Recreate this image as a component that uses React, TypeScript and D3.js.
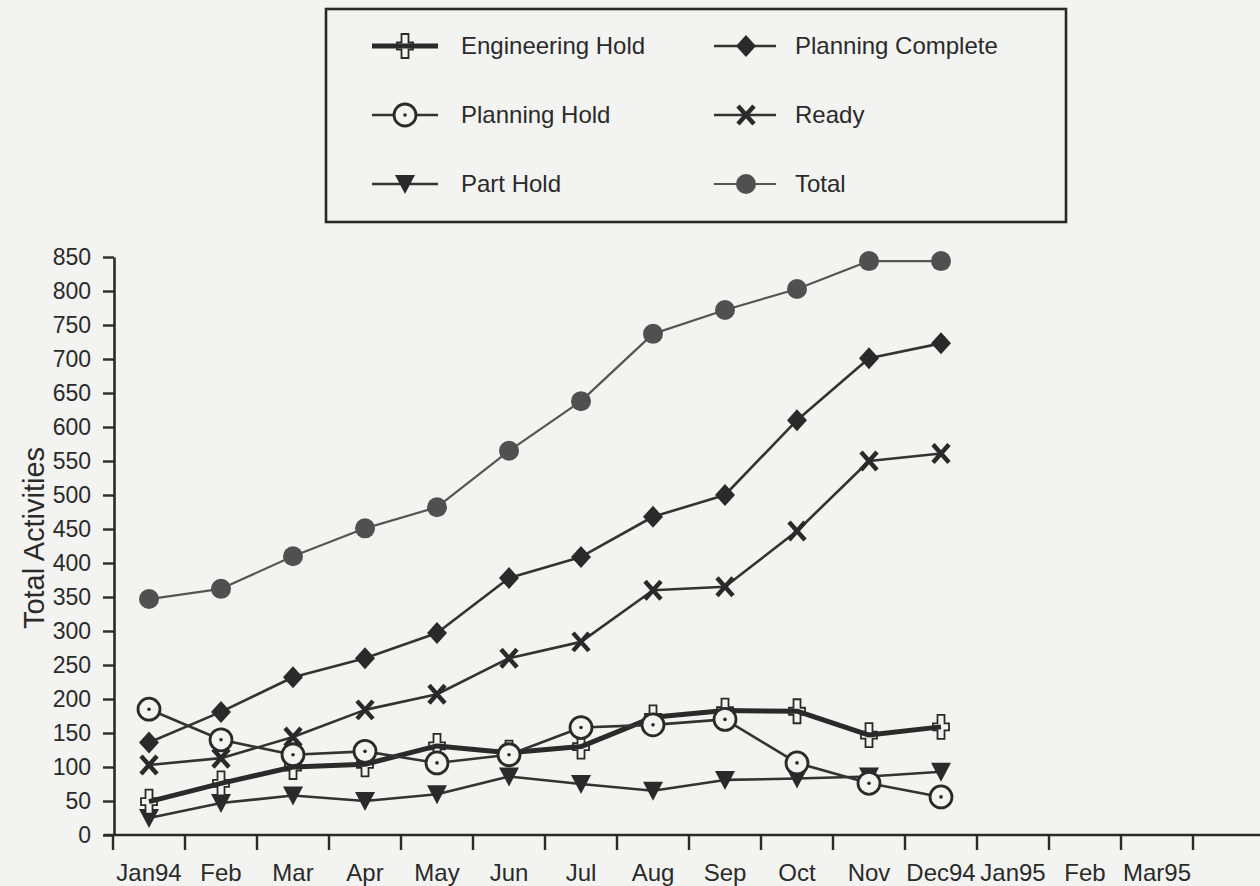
import React, { useEffect, useRef } from "react";
import * as d3 from "d3";

const categories = ["Jan94", "Feb", "Mar", "Apr", "May", "Jun", "Jul", "Aug", "Sep", "Oct", "Nov", "Dec94", "Jan95", "Feb", "Mar95"];
const months = ["Jan94", "Feb", "Mar", "Apr", "May", "Jun", "Jul", "Aug", "Sep", "Oct", "Nov", "Dec94"];
const yTicks = [0, 50, 100, 150, 200, 250, 300, 350, 400, 450, 500, 550, 600, 650, 700, 750, 800, 850];

const total = [347, 362, 410, 451, 482, 565, 638, 737, 772, 803, 844, 844];
const planningComplete = [136, 181, 232, 260, 297, 378, 409, 468, 500, 610, 701, 723];
const ready = [103, 113, 144, 184, 207, 260, 284, 360, 365, 447, 550, 561];
const planningHold = [185, 140, 118, 123, 106, 118, 158, 162, 170, 106, 76, 56];
const partHold = [25, 47, 58, 50, 60, 86, 75, 65, 81, 83, 86, 93];
const engineeringHold = [49, 76, 100, 104, 131, 121, 130, 173, 183, 182, 147, 159];

const seriesNames = ["Engineering Hold", "Planning Complete", "Planning Hold", "Ready", "Part Hold", "Total"];

const BG = "#f3f3f1";
const INK = "#2a2a2a";
const FONT = "'Liberation Sans', Arial, Helvetica, sans-serif";

export default function App() {
  const ref = useRef<SVGSVGElement | null>(null);

  useEffect(() => {
    const svg = d3.select(ref.current);
    svg.selectAll("*").remove();

    const W = 1260, H = 886;
    svg.append("rect").attr("width", W).attr("height", H).attr("fill", BG);

    const x = d3.scaleBand<number>().domain(d3.range(categories.length)).range([113, 1193]).padding(0);
    const y = d3.scaleLinear().domain([0, 850]).range([835, 257]);
    const cx = (i: number) => (x(i) as number) + x.bandwidth() / 2;

    // Y axis
    const yAxis = d3.axisLeft(y).tickValues(yTicks).tickSize(11).tickPadding(12).tickSizeOuter(0);
    const gy = svg.append("g").attr("transform", "translate(114,0)").call(yAxis);
    gy.select(".domain").attr("stroke", INK).attr("stroke-width", 2.6);
    gy.selectAll(".tick line").attr("stroke", INK).attr("stroke-width", 2.4);
    gy.selectAll(".tick text").attr("fill", INK).attr("font-size", 23).attr("font-family", FONT);

    // X axis
    const gx = svg.append("g");
    gx.append("line").attr("x1", 104).attr("x2", 1260).attr("y1", 835).attr("y2", 835)
      .attr("stroke", INK).attr("stroke-width", 2.6);
    const boundaries = d3.range(categories.length + 1).map((i) => 113 + i * x.bandwidth());
    gx.selectAll("line.tk").data(boundaries).enter().append("line")
      .attr("x1", (d) => d).attr("x2", (d) => d).attr("y1", 835).attr("y2", 850)
      .attr("stroke", INK).attr("stroke-width", 2.4);
    gx.selectAll("text").data(categories).enter().append("text")
      .attr("x", (_d, i) => cx(i)).attr("y", 881).attr("text-anchor", "middle")
      .attr("font-size", 24).attr("font-family", FONT).attr("fill", INK)
      .text((d) => d);

    // Y label
    svg.append("text").attr("transform", "translate(44,538) rotate(-90)")
      .attr("text-anchor", "middle").attr("font-size", 29).attr("font-family", FONT)
      .attr("fill", INK).text("Total Activities");

    // marker drawing
    const drawMarker = (g: any, type: string, px: number, py: number) => {
      if (type === "Total") {
        g.append("circle").attr("cx", px).attr("cy", py).attr("r", 10).attr("fill", "#505050");
      } else if (type === "Planning Complete") {
        g.append("path").attr("d", `M${px},${py - 11}L${px + 10},${py}L${px},${py + 11}L${px - 10},${py}Z`).attr("fill", INK);
      } else if (type === "Planning Hold") {
        g.append("circle").attr("cx", px).attr("cy", py).attr("r", 11).attr("fill", BG).attr("stroke", INK).attr("stroke-width", 2.8);
        g.append("circle").attr("cx", px).attr("cy", py).attr("r", 1.8).attr("fill", INK);
      } else if (type === "Ready") {
        g.append("path").attr("d", `M${px - 8},${py - 9}L${px + 8},${py + 9}M${px + 8},${py - 9}L${px - 8},${py + 9}`)
          .attr("stroke", INK).attr("stroke-width", 4.5).attr("fill", "none");
      } else if (type === "Part Hold") {
        g.append("path").attr("d", `M${px - 10},${py - 9}L${px + 10},${py - 9}L${px},${py + 10}Z`).attr("fill", INK);
      } else if (type === "Engineering Hold") {
        const a = 3.5, v = 12, h = 8;
        g.append("path").attr("d",
          `M${px - a},${py - v}L${px + a},${py - v}L${px + a},${py - a}L${px + h},${py - a}L${px + h},${py + a}L${px + a},${py + a}L${px + a},${py + v}L${px - a},${py + v}L${px - a},${py + a}L${px - h},${py + a}L${px - h},${py - a}L${px - a},${py - a}Z`)
          .attr("fill", BG).attr("stroke", INK).attr("stroke-width", 1.8);
      }
    };

    const lineStyle: Record<string, { color: string; width: number }> = {
      "Total": { color: "#555", width: 2.2 },
      "Planning Complete": { color: "#333", width: 2.6 },
      "Ready": { color: "#333", width: 2.6 },
      "Planning Hold": { color: "#333", width: 2.6 },
      "Part Hold": { color: "#333", width: 2.6 },
      "Engineering Hold": { color: "#2a2a2a", width: 5 },
    };

    const data: [string, number[]][] = [
      ["Total", total],
      ["Planning Complete", planningComplete],
      ["Ready", ready],
      ["Part Hold", partHold],
      ["Engineering Hold", engineeringHold],
      ["Planning Hold", planningHold],
    ];

    const line = d3.line<number>().x((_d, i) => cx(i)).y((d) => y(d));
    const plot = svg.append("g");
    data.forEach(([name, vals]) => {
      const st = lineStyle[name];
      const g = plot.append("g");
      if (name === "Engineering Hold") {
        vals.forEach((v, i) => drawMarker(g, name, cx(i), y(v)));
        g.append("path").attr("d", line(vals) as string).attr("fill", "none")
          .attr("stroke", st.color).attr("stroke-width", st.width).attr("stroke-linejoin", "round");
      } else {
        g.append("path").attr("d", line(vals) as string).attr("fill", "none")
          .attr("stroke", st.color).attr("stroke-width", st.width).attr("stroke-linejoin", "round");
        vals.forEach((v, i) => drawMarker(g, name, cx(i), y(v)));
      }
    });

    // Legend
    const lg = svg.append("g");
    lg.append("rect").attr("x", 326).attr("y", 9).attr("width", 740).attr("height", 213)
      .attr("fill", "none").attr("stroke", INK).attr("stroke-width", 2.6);
    const cols = [{ lx1: 372, lx2: 438, mx: 405, tx: 461 }, { lx1: 714, lx2: 776, mx: 746, tx: 795 }];
    const rows = [46, 115, 184];
    seriesNames.forEach((name, k) => {
      const c = cols[k % 2];
      const ry = rows[Math.floor(k / 2)];
      const st = lineStyle[name];
      const g = lg.append("g");
      if (name === "Engineering Hold") {
        drawMarker(g, name, c.mx, ry);
        g.append("line").attr("x1", c.lx1).attr("x2", c.lx2).attr("y1", ry).attr("y2", ry)
          .attr("stroke", st.color).attr("stroke-width", st.width);
      } else {
        g.append("line").attr("x1", c.lx1).attr("x2", c.lx2).attr("y1", ry).attr("y2", ry)
          .attr("stroke", st.color).attr("stroke-width", st.width);
        drawMarker(g, name, c.mx, ry);
      }
      g.append("text").attr("x", c.tx).attr("y", ry + 8).attr("font-size", 24)
        .attr("font-family", FONT).attr("fill", INK).text(name);
    });
  }, []);

  return (
    <svg ref={ref} width={1260} height={886} style={{ position: "absolute", left: 0, top: 0 }} />
  );
}
